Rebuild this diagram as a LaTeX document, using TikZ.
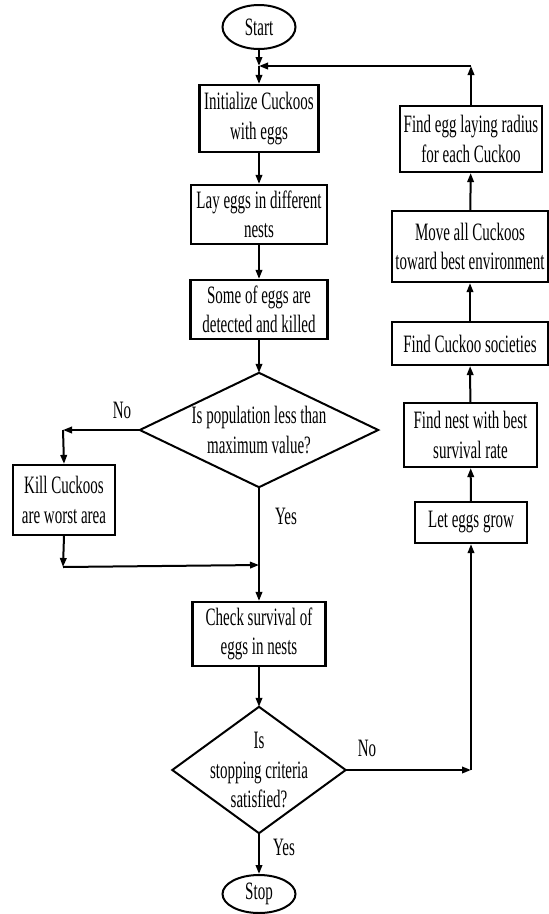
\documentclass[tikz,border=0pt]{standalone}
\usepackage{fontspec}
\setmainfont{Liberation Serif}[FakeStretch=0.6]
\usetikzlibrary{arrows.meta,shapes.geometric}
\begin{document}
\begin{tikzpicture}[x=1pt,y=-1pt,
  every node/.style={font=\fontsize{25}{29.5}\selectfont, align=center, inner sep=1pt},
  box/.style={draw, rectangle, line width=2.2pt},
  term/.style={draw, ellipse, line width=2pt, inner sep=0pt},
  dzone/.style={rectangle, inner sep=0pt},
  ddraw/.style={draw, line width=2pt, line join=miter},
  conn/.style={line width=2pt},
  arr/.style={conn, -{Triangle[length=9pt,width=6.5pt]}},
  lbl/.style={inner sep=0pt}
]
\useasboundingbox (0,0) rectangle (549,914);

% main column
\node[term, minimum width=73, minimum height=44] (start) at (259,27) {Start};
\node[box, minimum width=119, minimum height=67] (init) at (259,118.5) {Initialize Cuckoos\\with eggs};
\node[box, minimum width=136, minimum height=59] (lay) at (259,214.5) {Lay eggs in different\\nests};
\node[box, minimum width=137, minimum height=59] (some) at (259,309.5) {Some of eggs are\\detected and killed};
\node[dzone, minimum width=238, minimum height=114] (d1) at (259,430) {Is population less than\\maximum value?};
\draw[ddraw] (d1.north) -- (d1.east) -- (d1.south) -- (d1.west) -- cycle;
\node[box, minimum width=102, minimum height=70] (kill) at (64,500) {Kill Cuckoos\\are worst area};
\node[box, minimum width=133, minimum height=64] (check) at (259,634) {Check survival of\\eggs in nests};
\node[dzone, minimum width=173, minimum height=126] (d2) at (259,770) {Is\\stopping criteria\\satisfied?};
\draw[ddraw] (d2.north) -- (d2.east) -- (d2.south) -- (d2.west) -- cycle;
\node[term, minimum width=73, minimum height=38] (stop) at (259,894) {Stop};

% right column
\node[box, minimum width=142, minimum height=66] (egg) at (471,139) {Find egg laying radius\\for each Cuckoo};
\node[box, minimum width=156, minimum height=71] (move) at (470,246.5) {Move all Cuckoos\\toward best environment};
\node[box, minimum width=156, minimum height=43] (soc) at (470,343.5) {Find Cuckoo societies};
\node[box, minimum width=133, minimum height=64] (nest) at (470.5,435) {Find nest with best\\survival rate};
\node[box, minimum width=112, minimum height=41] (grow) at (471,522.5) {Let eggs grow};

% labels
\node[lbl] (no1) at (122,410) {No};
\node[lbl] (yes1) at (286,516) {Yes};
\node[lbl] (no2) at (367,748) {No};
\node[lbl] (yes2) at (284,847) {Yes};

% helper coordinates
\coordinate (jt) at (259,66);
\coordinate (rc) at (471,66);
\coordinate (lc) at (63,430);
\coordinate (lb) at (63,567);
\coordinate (mj) at (259,565);
\coordinate (rb) at (471,770);

% connectors
\draw[arr] (start) -- (jt);
\draw[arr] (egg.north) -- (rc);
\draw[arr] (rc) -- (jt);
\draw[arr] (jt) -- (init.north);
\draw[arr] (init) -- (lay);
\draw[arr] (lay) -- (some);
\draw[arr] (some.south) -- (d1.north);
\draw[arr] (d1.west) -- (lc);
\draw[arr] (lc) -- (kill.north);
\draw[arr] (kill.south) -- (lb);
\draw[arr] (lb) -- (mj);
\draw[arr] (d1.south) -- (check.north);
\draw[arr] (check.south) -- (d2.north);
\draw[arr] (d2.east) -- (rb);
\draw[arr] (rb) -- (grow.south);
\draw[arr] (grow) -- (nest);
\draw[arr] (nest) -- (soc);
\draw[arr] (soc) -- (move);
\draw[arr] (move) -- (egg);
\draw[arr] (d2.south) -- (stop.north);
\end{tikzpicture}
\end{document}
